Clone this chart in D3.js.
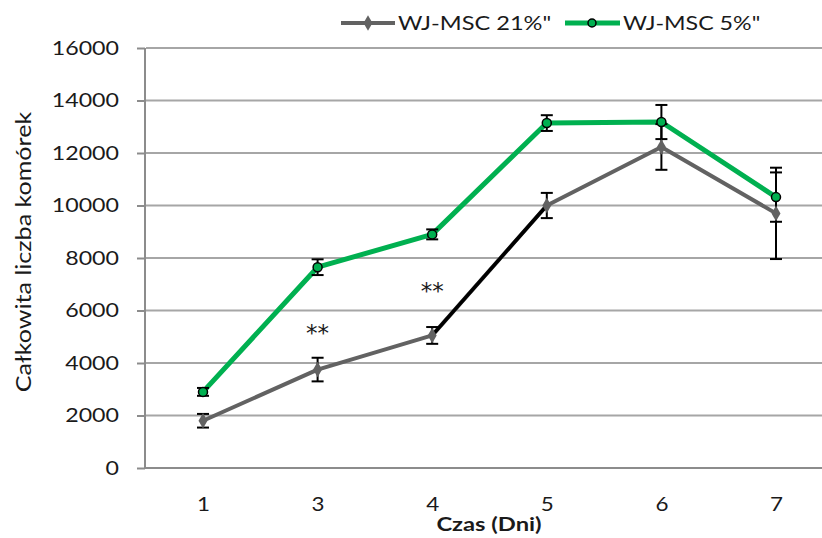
<!DOCTYPE html>
<html lang="pl">
<head>
<meta charset="UTF-8">
<title>Całkowita liczba komórek</title>
<script src="https://d3js.org/d3.v7.min.js"></script>
<style>
  body { margin: 0; background: #fff; font-family: Lato, 'Open Sans', sans-serif; }
  .grid line { stroke: #a6a6a6; stroke-width: 2px; }
  .tick text { fill: #1a1a1a; }
</style>
</head>
<body>
<div id="chart"></div>
<script>
// chart data
const days = ["1", "3", "4", "5", "6", "7"];
const normoxia = [1800, 3750, 5050, 10000, 12230, 9700];     // WJ-MSC 21%
const normoxiaErr = [260, 450, 320, 480, 870, 1740];
const hypoxia = [2900, 7650, 8900, 13140, 13180, 10320];     // WJ-MSC 5%
const hypoxiaErr = [150, 300, 190, 300, 650, 940];
const yTicks = [0, 2000, 4000, 6000, 8000, 10000, 12000, 14000, 16000];
const stars = [{day: "3", y: 4850}, {day: "4", y: 6450}];

const W = 822, H = 538;
const svg = d3.select("#chart").append("svg")
    .attr("width", W).attr("height", H);

const x = d3.scalePoint().domain(days).range([203, 776]);
const y = d3.scaleLinear().domain([0, 16000]).range([468, 48]);

// the original text is a bit wider than Lato, stretch it around its anchor
function stretch(sel, k) {
    sel.each(function() {
        const t = d3.select(this);
        const ax = +t.attr("x") || 0;
        t.attr("transform", "translate(" + ax + ",0) scale(" + k + ",1) translate(" + (-ax) + ",0)");
    });
}

// gridlines
svg.append("g").attr("class", "grid")
  .selectAll("line").data(yTicks.slice(1)).enter().append("line")
    .attr("x1", 146).attr("x2", W)
    .attr("y1", d => y(d)).attr("y2", d => y(d));

// y axis
const yAxis = svg.append("g").attr("transform", "translate(145,0)")
    .call(d3.axisLeft(y).tickValues(yTicks).tickSize(8).tickPadding(18).tickFormat(d3.format("d")));
yAxis.selectAll("line, path").attr("stroke", "#8c8c8c").attr("stroke-width", 2);
yAxis.select("path").attr("d", "M0," + y(16000) + "V" + y(0));
yAxis.selectAll("text").style("font-size", "19.5px").style("font-family", "Lato, sans-serif")
    .call(stretch, 1.19);

// x axis
const xAxis = svg.append("g").attr("transform", "translate(0,468)")
    .call(d3.axisBottom(x).tickSize(0).tickPadding(29));
xAxis.select("path").attr("d", "M145,0H" + W).attr("stroke", "#8c8c8c").attr("stroke-width", 2);
xAxis.selectAll("text").style("font-size", "19.5px").style("font-family", "Lato, sans-serif")
    .call(stretch, 1.15);

// axis titles
svg.append("text")
    .attr("transform", "translate(31,252) rotate(-90) scale(1.14,1)")
    .attr("text-anchor", "middle")
    .style("font-size", "22px").attr("fill", "#1a1a1a")
    .text("Całkowita liczba komórek");
svg.append("text")
    .attr("x", 489).attr("y", 531)
    .attr("text-anchor", "middle")
    .style("font-size", "19px").style("font-weight", "bold").attr("fill", "#1a1a1a")
    .text("Czas (Dni)")
    .call(stretch, 1.25);

// lines
const line = d3.line().x((d, i) => x(days[i])).y(d => y(d));
svg.append("path").datum(normoxia)
    .attr("d", line).attr("fill", "none")
    .attr("stroke", "#626262").attr("stroke-width", 4).attr("stroke-linejoin", "round");
// day 4 -> 5 segment drawn black in the original
svg.append("path")
    .attr("d", d3.line().x((d, i) => x(days[i + 2])).y(d => y(d))(normoxia.slice(2, 4)))
    .attr("fill", "none").attr("stroke", "#000").attr("stroke-width", 3.5);
svg.append("path").datum(hypoxia)
    .attr("d", line).attr("fill", "none")
    .attr("stroke", "#00b050").attr("stroke-width", 5).attr("stroke-linejoin", "round");

// error bars
function errorBars(vals, errs) {
    const g = svg.append("g").attr("stroke", "#000").attr("stroke-width", 2);
    vals.forEach((v, i) => {
        const cx = x(days[i]);
        g.append("line").attr("x1", cx).attr("x2", cx)
            .attr("y1", y(v + errs[i])).attr("y2", y(v - errs[i]));
        [v + errs[i], v - errs[i]].forEach(e => {
            g.append("line").attr("x1", cx - 6).attr("x2", cx + 6)
                .attr("y1", y(e)).attr("y2", y(e));
        });
    });
}
errorBars(normoxia, normoxiaErr);
errorBars(hypoxia, hypoxiaErr);

// markers
svg.append("g").selectAll("path").data(normoxia).enter().append("path")
    .attr("d", d3.symbol().type(d3.symbolDiamond).size(70))
    .attr("transform", (d, i) => "translate(" + x(days[i]) + "," + y(d) + ")")
    .attr("fill", "#626262");
svg.append("g").selectAll("circle").data(hypoxia).enter().append("circle")
    .attr("cx", (d, i) => x(days[i])).attr("cy", d => y(d)).attr("r", 4.5)
    .attr("fill", "#00b050").attr("stroke", "#000").attr("stroke-width", 1.5);

// significance stars
svg.append("g").selectAll("text").data(stars).enter().append("text")
    .attr("x", d => x(d.day)).attr("y", d => y(d.y))
    .attr("text-anchor", "middle")
    .style("font-size", "23px").style("font-family", "'DejaVu Sans', sans-serif").attr("fill", "#1a1a1a")
    .text("**");

// legend
const leg = svg.append("g");
leg.append("line").attr("x1", 341).attr("x2", 395).attr("y1", 23).attr("y2", 23)
    .attr("stroke", "#626262").attr("stroke-width", 4);
leg.append("path").attr("d", d3.symbol().type(d3.symbolDiamond).size(70))
    .attr("transform", "translate(368,23)").attr("fill", "#626262");
leg.append("text").attr("x", 398).attr("y", 30)
    .style("font-size", "19.5px").attr("fill", "#1a1a1a").text("WJ-MSC 21%\"")
    .call(stretch, 1.21);
leg.append("line").attr("x1", 565).attr("x2", 620).attr("y1", 23).attr("y2", 23)
    .attr("stroke", "#00b050").attr("stroke-width", 5);
leg.append("circle").attr("cx", 592).attr("cy", 23).attr("r", 4)
    .attr("fill", "#00b050").attr("stroke", "#000").attr("stroke-width", 1.5);
leg.append("text").attr("x", 623).attr("y", 30)
    .style("font-size", "19.5px").attr("fill", "#1a1a1a").text("WJ-MSC 5%\"")
    .call(stretch, 1.19);
</script>
</body>
</html>
